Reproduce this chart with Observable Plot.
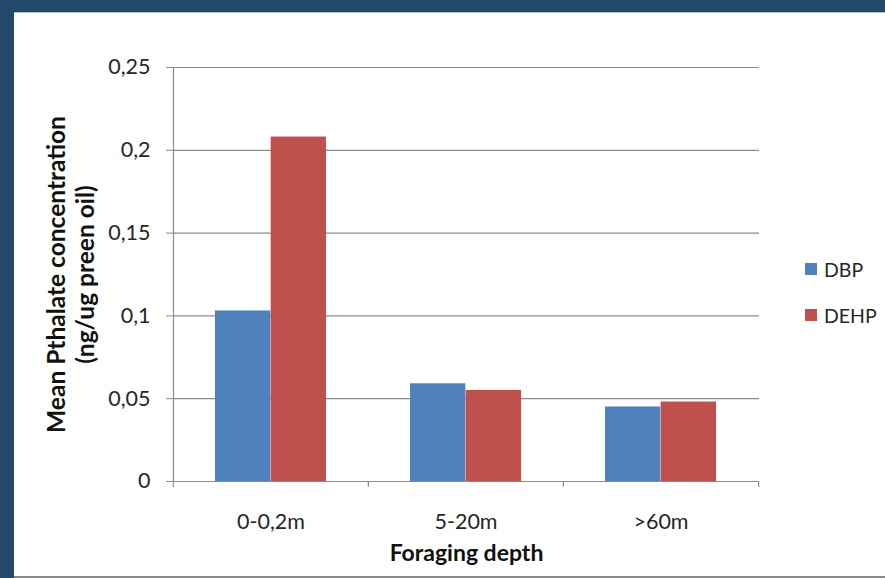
<!DOCTYPE html>
<html>
<head>
<meta charset="utf-8">
<script src="https://cdn.jsdelivr.net/npm/d3@7"></script>
<script src="https://cdn.jsdelivr.net/npm/@observablehq/plot@0.6"></script>
<style>
  html, body { margin: 0; padding: 0; }
  body {
    width: 885px; height: 578px; overflow: hidden;
    background: #22496b; position: relative;
    font-family: Lato, "Noto Sans", sans-serif;
  }
  #panel {
    position: absolute; left: 14px; top: 12px; width: 871px; height: 563px;
    background: #ffffff; border-top: 1px solid #b9c2cc; border-bottom: 2px solid #8a8a8a;
  }
  #chart { position: absolute; left: 0; top: 0; }
  #legend { position: absolute; left: 805px; top: 257px; font-size: 19.5px; color: #262626; }
  #legend .row { display: flex; align-items: center; height: 24px; margin-bottom: 22px; }
  #legend .sw { width: 12px; height: 12px; margin-right: 7px; }
</style>
</head>
<body>
<div id="panel"></div>
<div id="chart"></div>
<div id="legend"></div>
<script>
// Foraging depth groups and the two phthalates measured
const categories = ["0-0,2m", "5-20m", ">60m"];
const series = ["DBP", "DEHP"];
const dbp = [0.103, 0.059, 0.045];
const dehp = [0.208, 0.055, 0.048];
const yTicks = [0, 0.05, 0.1, 0.15, 0.2, 0.25];
const yTickLabels = ["0", "0,05", "0,1", "0,15", "0,2", "0,25"];
const colors = ["#4f81bd", "#c0504d"];
const yTitle = ["Mean Pthalate concentration", "(ng/ug preen oil)"];
const xTitle = "Foraging depth";

const rows = categories.flatMap((c, i) => [
  {depth: c, series: "DBP", value: dbp[i]},
  {depth: c, series: "DEHP", value: dehp[i]}
]);

// layout
const W = 885, H = 578;
const mL = 173, mR = 126, mT = 67, mB = 97;
const padInner = 0.43, padOuter = padInner / 2;
const step = (W - mL - mR) / (categories.length - padInner + 2 * padOuter);
const half = step * (1 - padInner) / 2;
const axisGray = "#8c8c8c";
const titleStyle = {rotate: -90, frameAnchor: "left", lineAnchor: "middle", textAnchor: "middle",
                    fontSize: 24.5, fontWeight: "bold", fill: "#111"};

const chart = Plot.plot({
  width: W, height: H,
  marginLeft: mL, marginRight: mR, marginTop: mT, marginBottom: mB,
  style: {fontFamily: "Lato, 'Noto Sans', sans-serif", background: "transparent"},
  x: {domain: categories, paddingInner: padInner, paddingOuter: padOuter},
  y: {domain: [0, 0.25]},
  color: {domain: series, range: colors},
  marks: [
    Plot.gridY(yTicks, {stroke: axisGray, strokeOpacity: 1, strokeWidth: 1.2}),
    // DBP on the left half of each group, DEHP on the right half
    Plot.barY(rows.filter(d => d.series === "DBP"), {x: "depth", y: "value", fill: "series", insetRight: half}),
    Plot.barY(rows.filter(d => d.series === "DEHP"), {x: "depth", y: "value", fill: "series", insetLeft: half}),
    Plot.frame({anchor: "left", stroke: axisGray, strokeWidth: 1.2}),
    Plot.ruleY([0], {stroke: axisGray, strokeWidth: 1.2}),
    // tick marks between the category groups
    Plot.ruleX(categories, {x: d => d, y1: 0, y2: 0, dx: -step / 2, insetBottom: -6, stroke: axisGray, strokeWidth: 1.2}),
    Plot.ruleX(categories.slice(-1), {x: d => d, y1: 0, y2: 0, dx: step / 2, insetBottom: -6, stroke: axisGray, strokeWidth: 1.2}),
    Plot.axisY({
      ticks: yTicks,
      tickFormat: d => yTickLabels[yTicks.indexOf(d)],
      tickSize: 7, tickPadding: 16,
      stroke: axisGray, fill: "#262626", fontSize: 21.5, label: null
    }),
    Plot.axisX({tickSize: 0, tickPadding: 32, fill: "#262626", fontSize: 21.5, label: null}),
    Plot.text([xTitle], {
      frameAnchor: "bottom", dy: 72, lineAnchor: "middle", textAnchor: "middle",
      fontSize: 23, fontWeight: "bold", fill: "#111"
    }),
    // two-line vertical title, one line per mark
    Plot.text([yTitle[0]], {...titleStyle, dx: -116}),
    Plot.text([yTitle[1]], {...titleStyle, dx: -87})
  ]
});
document.getElementById("chart").appendChild(chart);

// legend: one row per series
const legend = document.getElementById("legend");
series.forEach((s, i) => {
  const row = document.createElement("div");
  row.className = "row";
  const sw = document.createElement("div");
  sw.className = "sw";
  sw.style.background = colors[i];
  const label = document.createElement("span");
  label.textContent = s;
  row.appendChild(sw);
  row.appendChild(label);
  legend.appendChild(row);
});
</script>
</body>
</html>
